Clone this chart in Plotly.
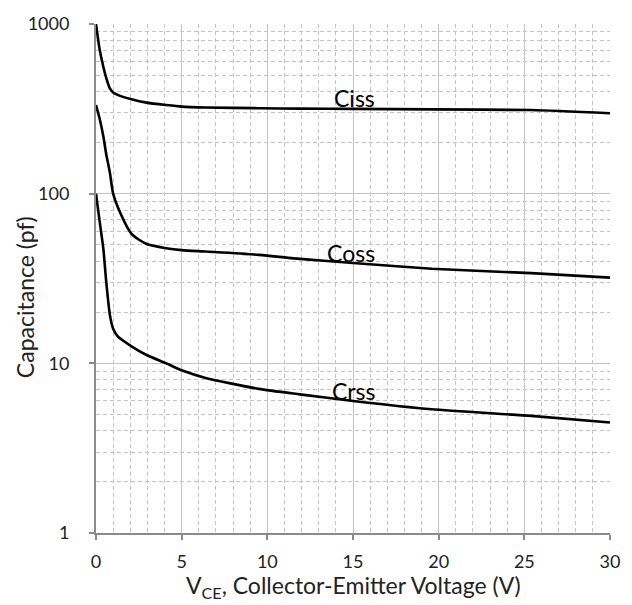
import math
import plotly.graph_objects as go

vce = [0, 0.2, 0.43, 0.6, 0.81, 1.0, 1.3, 2.07, 2.95, 4.1, 5.0, 6.4, 9.5, 11.9, 15.0, 19.6, 25.4, 30.0]
ciss = [1000, 720, 558, 480, 417, 395, 381, 360, 344, 333, 326, 322, 319, 317, 316, 314, 311, 298]
coss = [333, 280, 217, 170, 133, 100, 82, 58, 50.5, 47.7, 46.5, 45.6, 43.6, 41.3, 39.0, 36.1, 34.0, 32]
crss = [100, 70, 47.2, 30, 19.3, 16.0, 14.3, 12.6, 11.2, 10.0, 9.1, 8.2, 7.07, 6.56, 6.0, 5.36, 4.9, 4.48]

labels = ["Ciss", "Coss", "Crss"]
label_x = [15.06, 14.9, 15.06]
label_y = [365, 44.5, 6.85]

font = "Lato, Open Sans, sans-serif"
plot_l, plot_r, plot_t, plot_b = 96, 612, 20, 533

fig = go.Figure()
for ys in (ciss, coss, crss):
    fig.add_trace(go.Scatter(x=vce, y=ys, mode="lines",
                             line=dict(color="black", width=2.6, shape="spline", smoothing=0.6),
                             showlegend=False, hoverinfo="skip"))

for t, lx, ly in zip(labels, label_x, label_y):
    fig.add_annotation(x=lx, y=math.log10(ly), yref="y", xref="x", text=t, showarrow=False,
                       font=dict(family=font, size=23, color="black"))

# axis titles as paper-anchored annotations
fig.add_annotation(x=0.5, y=(plot_b - 587) / (plot_b - plot_t), xref="paper", yref="paper",
                   xanchor="center", yanchor="middle",
                   text="V<sub>CE</sub>, Collector-Emitter Voltage (V)", showarrow=False,
                   font=dict(size=23, family=font, color="#222"))
fig.add_annotation(x=(25 - plot_l) / (plot_r - plot_l), y=(plot_b - 295) / (plot_b - plot_t),
                   xref="paper", yref="paper", xanchor="center", yanchor="middle",
                   showarrow=False, textangle=-90,
                   text="Capacitance (pf)", font=dict(size=23, family=font, color="#222"))

grid_c = "#c4c4c4"
fig.update_layout(
    width=632, height=605,
    margin=dict(l=plot_l, r=632 - plot_r, t=plot_t, b=605 - plot_b),
    plot_bgcolor="white", paper_bgcolor="white",
    font=dict(family=font, color="#222"),
    xaxis=dict(range=[0, 30], dtick=5, tick0=0,
               showline=True, linecolor="#8a8a8a", linewidth=2,
               ticks="outside", ticklen=5, tickcolor="#8a8a8a", tickwidth=1.5,
               ticklabelstandoff=6,
               showgrid=True, gridcolor=grid_c, gridwidth=1.3,
               zeroline=False,
               minor=dict(dtick=1, showgrid=True, gridcolor=grid_c, griddash="4px,3px", gridwidth=1),
               tickfont=dict(size=18, family=font, color="#222")),
    yaxis=dict(type="log", range=[0, 3],
               tickvals=[1, 10, 100, 1000], ticktext=["1", "10", "100", "1000"],
               showline=True, linecolor="#8a8a8a", linewidth=2,
               ticks="outside", ticklen=5, tickcolor="#8a8a8a", tickwidth=1.5,
               ticklabelstandoff=16,
               showgrid=True, gridcolor=grid_c, gridwidth=1.3,
               zeroline=False,
               minor=dict(tickmode="array",
                          tickvals=[m * d for d in (1, 10, 100) for m in range(2, 10)],
                          showgrid=True, gridcolor=grid_c, griddash="4px,3px", gridwidth=1),
               tickfont=dict(size=18, family=font, color="#222")),
)

fig.write_html("out.html")
